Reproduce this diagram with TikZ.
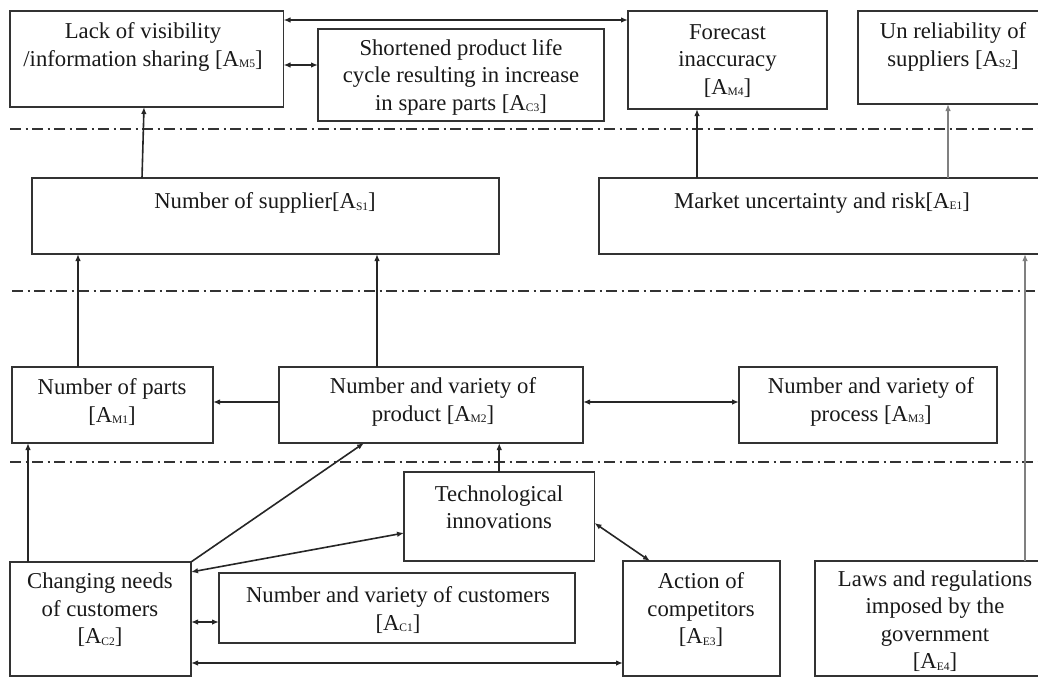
\documentclass[tikz,border=0pt]{standalone}
\usepackage{fontspec}
\setmainfont{Liberation Serif}
\usetikzlibrary{arrows.meta}
% small lowered index for the factor codes such as A_{M5}
\newcommand\sbx[1]{\raisebox{-1.5pt}{\fontsize{11.5pt}{11.5pt}\selectfont #1}}
\begin{document}
\begin{tikzpicture}[x=1pt,y=-1pt,
  box/.style={draw=black!80, line width=1.7pt, inner sep=0pt, outer sep=0pt},
  txt/.style={align=center, inner sep=0pt, text=black!90,
              font=\fontsize{22.7pt}{27.5pt}\selectfont},
  arr/.style={draw=black!85, line width=1.6pt, -{Latex[length=7pt,width=5.5pt]}},
  dbl/.style={arr, {Latex[length=7pt,width=5.5pt]}-{Latex[length=7pt,width=5.5pt]}},
  garr/.style={arr, draw=black!50},
  sep/.style={draw=black!80, line width=1.4pt,
              dash pattern=on 11pt off 4.5pt on 2pt off 4.5pt}]
\useasboundingbox (0,0) rectangle (1038,677);
\begin{scope}
\clip (0,0) rectangle (1038,677);
\fill[white] (0,0) rectangle (1038,677);

% level separators
\draw[sep] (10,129) -- (1038,129);
\draw[sep] (12,291) -- (1038,291);
\draw[sep] (10,462) -- (1038,462);

% boxes
\node[box, minimum width=273.5, minimum height=96] (am5) at (146.75,59) {};
\node[box, minimum width=286,   minimum height=92] (ac3) at (461,75) {};
\node[box, minimum width=199,   minimum height=98] (am4) at (727.5,60) {};
\node[box, minimum width=192,   minimum height=93] (as2) at (954,57.5) {};
\node[box, minimum width=467,   minimum height=76] (as1) at (265.5,216) {};
\node[box, minimum width=451,   minimum height=76] (ae1) at (824.5,216) {};
\node[box, minimum width=201,   minimum height=76] (am1) at (112.5,405) {};
\node[box, minimum width=304,   minimum height=76] (am2) at (431,405) {};
\node[box, minimum width=258,   minimum height=76] (am3) at (868,405) {};
\node[box, minimum width=190.5, minimum height=89] (tech) at (499.25,516.5) {};
\node[box, minimum width=181,   minimum height=114] (ac2) at (100.5,619) {};
\node[box, minimum width=356,   minimum height=70] (ac1) at (397,608) {};
\node[box, minimum width=157,   minimum height=115] (ae3) at (701.5,618.5) {};
\node[box, minimum width=235,   minimum height=115] (ae4) at (932.5,618.5) {};

% labels
\node[txt] (am5t) at (143,47) {Lack of visibility\\/information sharing [A\sbx{M5}]};
\node[txt] (ac3t) at (461,77) {Shortened product life\\cycle resulting in increase\\in spare parts [A\sbx{C3}]};
\node[txt] (am4t) at (727.5,61) {Forecast\\inaccuracy\\{}[A\sbx{M4}]};
\node[txt] (as2t) at (953,47) {Un reliability of\\suppliers [A\sbx{S2}]};
\node[txt] (as1t) at (265,203) {Number of supplier[A\sbx{S1}]};
\node[txt] (ae1t) at (822,203) {Market uncertainty and risk[A\sbx{E1}]};
\node[txt] (am1t) at (112,402) {Number of parts\\{}[A\sbx{M1}]};
\node[txt] (am2t) at (433,402) {Number and variety of\\product [A\sbx{M2}]};
\node[txt] (am3t) at (871,402) {Number and variety of\\process [A\sbx{M3}]};
\node[txt] (techt) at (499,507) {Technological\\innovations};
\node[txt] (ac2t) at (100,610) {Changing needs\\of customers\\{}[A\sbx{C2}]};
\node[txt] (ac1t) at (398,610) {Number and variety of customers\\{}[A\sbx{C1}]};
\node[txt] (ae3t) at (701,610) {Action of\\competitors\\{}[A\sbx{E3}]};
\node[txt] (ae4t) at (935,621) {Laws and regulations\\imposed by the\\government\\{}[A\sbx{E4}]};

% connectors
\draw[dbl] (am5.east |- 0,20) -- (am4.west |- 0,20);
\draw[dbl] (am5.east |- 0,65) -- (ac3.west |- 0,65);
\draw[arr] (as1.north -| 142,0) -- (am5.south -| 144,0);
\draw[arr] (ae1.north -| 697,0) -- (am4.south -| 697,0);
\draw[garr] (ae1.north -| 948,0) -- (as2.south -| 948,0);
\draw[arr] (am1.north -| 78,0) -- (as1.south -| 78,0);
\draw[arr] (am2.north -| 377,0) -- (as1.south -| 377,0);
\draw[arr] (am2.west |- 0,402) -- (am1.east |- 0,402);
\draw[dbl] (am2.east |- 0,402) -- (am3.west |- 0,402);
\draw[garr] (ae4.north -| 1025,0) -- (ae1.south -| 1025,0);
\draw[arr] (tech.north) -- (am2.south -| tech.north);
\draw[arr] (ac2.north -| 28,0) -- (am1.south -| 28,0);
\draw[arr] (ac2.north east) -- (am2.south -| 364,0);
\draw[dbl] (ac2.east |- 0,572) -- (tech.west |- 0,533);
\draw[dbl] (ac2.east |- 0,622) -- (ac1.west |- 0,622);
\draw[dbl] (ac2.east |- 0,663) -- (ae3.west |- 0,663);
\draw[dbl] (tech.east |- 0,523) -- (ae3.north -| 650,0);
\end{scope}
\end{tikzpicture}
\end{document}
